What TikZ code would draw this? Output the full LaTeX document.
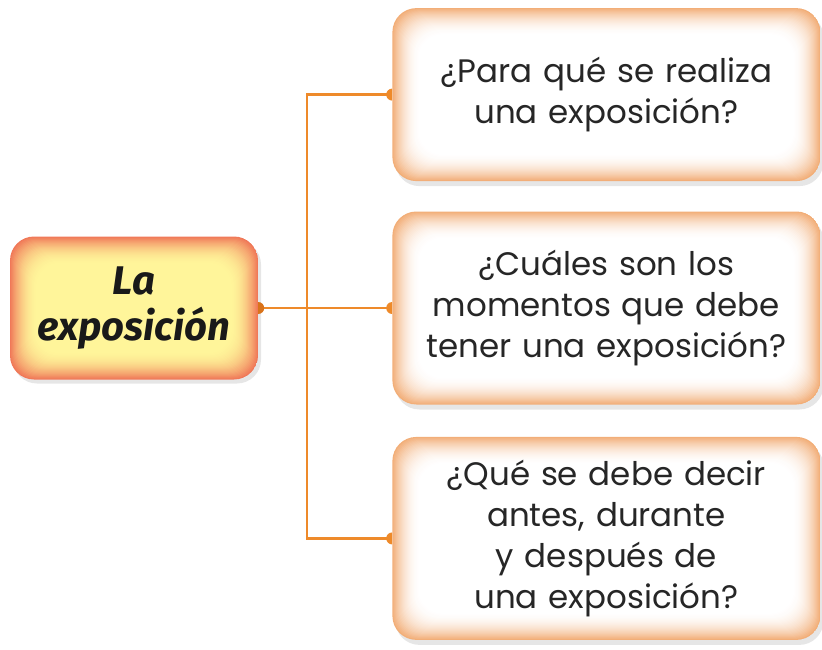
\documentclass[tikz,border=0pt]{standalone}
\usepackage{fontspec}
\setmainfont{Poppins}
\newfontfamily\leadfont{Fira Sans}
\usetikzlibrary{positioning, shadows}
\definecolor{linkorange}{HTML}{EE8A2A}
\definecolor{dotdark}{HTML}{D9731B}
\definecolor{peach}{HTML}{F2AE78}
\definecolor{coral}{HTML}{F07858}
\definecolor{lemon}{HTML}{FFF59A}
\tikzset{
	glow/.style 2 args={rounded corners=24pt, path picture={
		\foreach \k [evaluate=\k as \pct using {int(100*(1-\k/28)^2)}] in {0,...,28}{
			\fill[#1!\pct!#2, rounded corners=24pt]
				([shift={(\k*1pt,-\k*1pt)}]path picture bounding box.north west) rectangle
				([shift={(-\k*1pt,\k*1pt)}]path picture bounding box.south east);
	}}},
	link/.style={draw=linkorange, line width=2.5pt}
}

\begin{document}
\begin{tikzpicture}[
	node distance = 30pt and 134pt,
	% Styles
	leadbox/.style = {glow={coral}{lemon}, minimum width=248pt, minimum height=143pt, align=center,
		font=\leadfont\itshape\bfseries\fontsize{40}{46}\selectfont, text=black!90,
		drop shadow={shadow xshift=3pt, shadow yshift=-4pt, opacity=0.2}},
	qbox/.style = {glow={peach}{white}, minimum width=428pt, text width=420pt, align=center,
		font=\fontsize{32.5}{41}\selectfont, text=black!85,
		drop shadow={shadow xshift=3pt, shadow yshift=-5pt, opacity=0.2}}
	]
	\useasboundingbox (0,0) rectangle (822pt,-649pt);

	% Left: topic
	\node[leadbox] (lead) at (134pt,-308pt) {La\\exposición};

	% Right column: questions
	\node[qbox, minimum height=193pt, right=of lead] (mid) {¿Cuáles son los\\momentos que debe\\tener una exposición?};
	\node[qbox, minimum height=173pt, above=of mid] (top) {¿Para qué se realiza\\una exposición?};
	\node[qbox, minimum height=203pt, below=32pt of mid] (bot) {¿Qué se debe decir\\antes, durante\\y después de\\una exposición?};

	% Connectors
	\coordinate[right=49pt of lead.east] (fork);
	\draw[link] (top.west) -| (fork) |- (bot.west);
	\draw[link] (lead.east) -- (mid.west);

	% Dots
	\fill[dotdark] ([yshift=6pt]lead.east) arc (90:-90:6pt) -- cycle;
	\foreach \q in {top, mid, bot}
		\fill[linkorange] ([yshift=6pt]\q.west) arc (90:270:6pt) -- cycle;
\end{tikzpicture}
\end{document}
